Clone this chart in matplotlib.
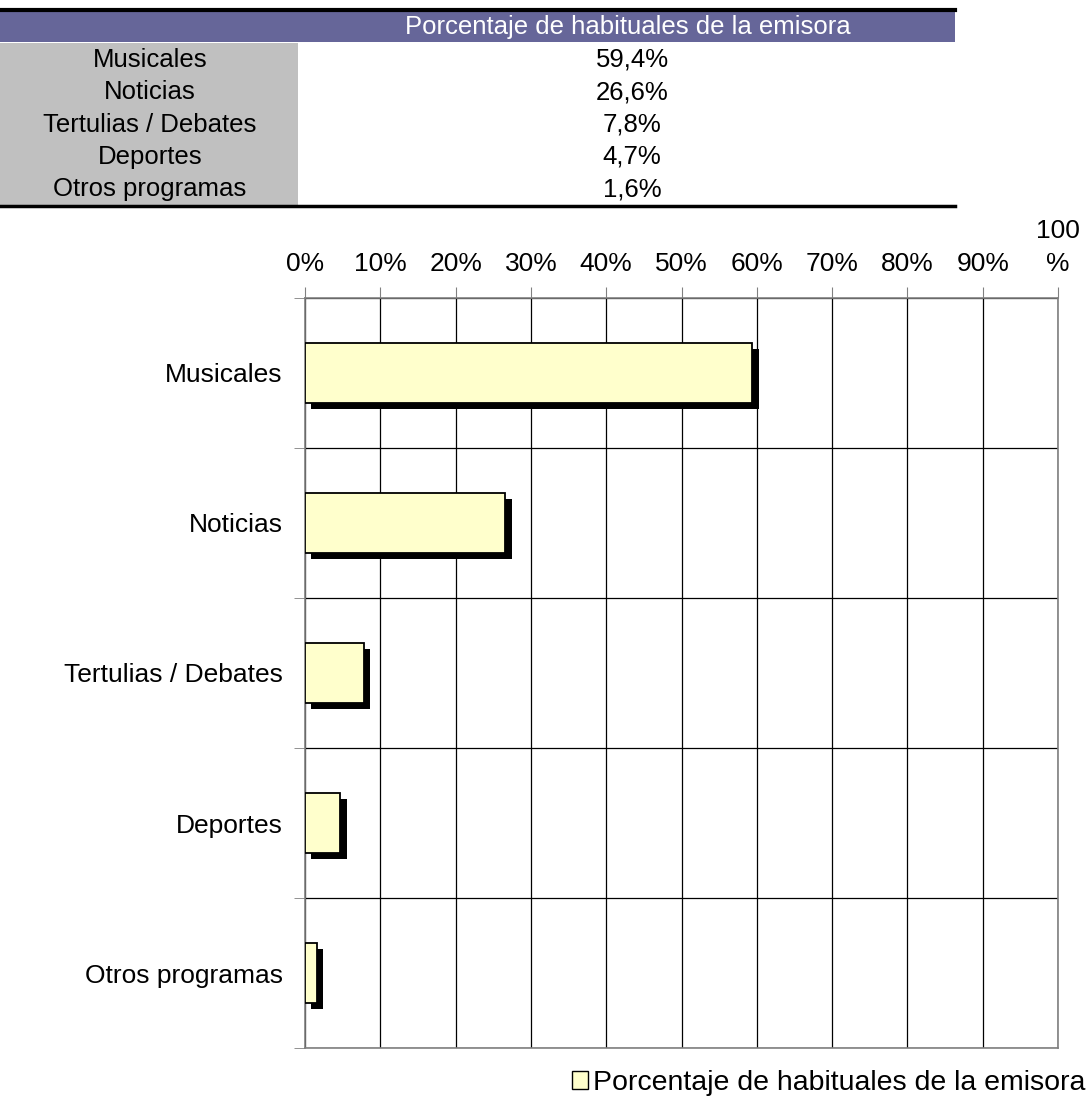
import matplotlib
matplotlib.use("Agg")
import matplotlib.pyplot as plt
from matplotlib.patches import Rectangle, Patch
from matplotlib.patheffects import SimplePatchShadow, Normal

plt.rcParams['font.family'] = ['Liberation Sans', 'DejaVu Sans']

#--Data--
categories = ['Musicales', 'Noticias', 'Tertulias / Debates', 'Deportes', 'Otros programas']
values = [59.4, 26.6, 7.8, 4.7, 1.6]
value_labels = ['59,4%', '26,6%', '7,8%', '4,7%', '1,6%']
series_name = 'Porcentaje de habituales de la emisora'
xticks = list(range(0, 101, 10))
xtick_labels = ['%d%%' % t for t in xticks[:-1]] + ['100\n%']

W, H = 1088, 1115
fig = plt.figure(figsize=(W / 100, H / 100), dpi=100)

#--Table on top (pixel coordinates on a background axes)--
bg = fig.add_axes([0, 0, 1, 1])
bg.set_xlim(0, W)
bg.set_ylim(H, 0)
bg.axis('off')
bg.add_patch(Rectangle((0, 11), 955, 31, facecolor='#666699', edgecolor='none'))
bg.add_patch(Rectangle((0, 43), 298, 162, facecolor='#C0C0C0', edgecolor='none'))
bg.plot([0, 955], [10, 10], color='black', lw=3)
bg.plot([0, 955], [206, 206], color='black', lw=2.5)
bg.text(628, 27, series_name, color='white', fontsize=18.5, ha='center', va='center')
row0, row_h = 60, 32.3
for i, (c, v) in enumerate(zip(categories, value_labels)):
    y = row0 + i * row_h
    bg.text(150, y, c, fontsize=18.5, ha='center', va='center')
    bg.text(632, y, v, fontsize=18.5, ha='center', va='center')

#--Bar chart--
ax = fig.add_axes([305 / W, (H - 1048) / H, (1058 - 305) / W, (1048 - 298) / H])
ypos = list(range(len(categories)))
ax.barh(ypos, values, height=0.4, color='#FFFFCC', edgecolor='black', linewidth=1.3,
        zorder=3, label=series_name,
        path_effects=[SimplePatchShadow(offset=(4.5, -4.5), shadow_rgbFace='black', alpha=1), Normal()])
ax.set_xlim(0, 100)
ax.set_ylim(len(categories) - 0.5, -0.5)

ax.xaxis.tick_top()
ax.set_xticks(xticks)
ax.set_xticklabels(xtick_labels)
ax.tick_params(axis='x', which='major', direction='out', length=8, pad=8, labelsize=19,
               color='#808080')
for lbl in ax.get_xticklabels():
    lbl.set_linespacing(1.45)
ax.set_yticks(ypos)
ax.set_yticklabels(categories)
ax.set_yticks([i - 0.5 for i in range(len(categories) + 1)], minor=True)
ax.tick_params(axis='y', which='major', length=0, pad=16, labelsize=19)
ax.tick_params(axis='y', which='minor', direction='out', length=8, color='#808080')
ax.grid(axis='x', which='major', color='black', lw=0.9, zorder=1)
ax.grid(axis='y', which='minor', color='black', lw=0.9, zorder=1)
for s in ax.spines.values():
    s.set_color('#808080')
    s.set_linewidth(1.2)

fig.legend(handles=[Patch(facecolor='#FFFFCC', edgecolor='black')], labels=[series_name],
           loc='center right', bbox_to_anchor=(1097 / W, 1 - 1083 / H), frameon=False,
           fontsize=20.5, handlelength=0.55, handleheight=0.55, handletextpad=0.2,
           borderaxespad=0)

fig.savefig('out.png', dpi=100)
